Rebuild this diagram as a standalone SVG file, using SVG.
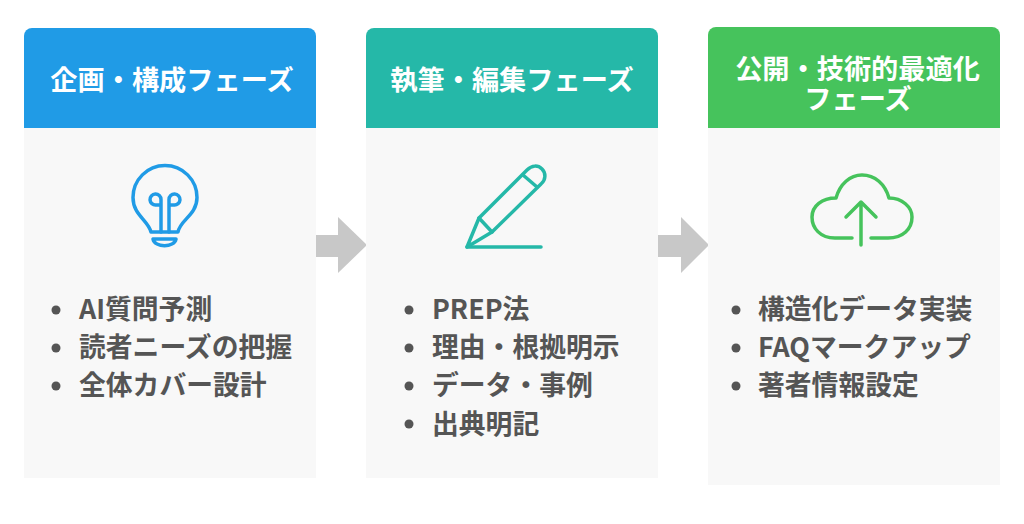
<svg xmlns="http://www.w3.org/2000/svg" width="1024" height="524" viewBox="0 0 1024 524">
<style>
text{font-family:"Noto Sans CJK JP","Noto Sans",sans-serif;font-weight:700}
.h{fill:#fff;font-size:27.200px;text-anchor:middle}
.l{fill:#555;font-size:26.800px}
.b{fill:#f8f8f8}
.i{fill:none;stroke-width:3.500;stroke-linecap:round;stroke-linejoin:round}
.a{fill:#c8c8c8}
.d{fill:#555}
</style>
<rect width="1024" height="524" fill="#fff"/>
<g id="connectors">
<path class="a" d="M316 235H338V217L367 245L338 273V257H316Z"/>
<path class="a" d="M658 235H681V217L709 245L681 273V257H658Z"/>
</g>
<g id="phase1">
<rect class="b" x="24" y="128" width="292" height="350"/>
<path fill="#209be6" d="M24 128V36a8 8 0 0 1 8-8H308a8 8 0 0 1 8 8V128Z"/>
<text class="h" x="172" y="90">企画・構成フェーズ</text>
<g class="i" stroke="#209be6">
<path d="M151 232C148 220 133 215 133 197.500A32 32 0 0 1 197 197.500C197 215 180 220 178 232Z"/>
<path d="M161 232V205H156a5.500 5.500 0 1 1 5-5.500V205M169 232V205H174a5.500 5.500 0 1 0-5-5.500V205"/>
<path d="M153 239H176C174 248 155 248 153 239Z"/>
</g>
<circle class="d" cx="56" cy="310" r="4.500"/><text class="l" x="79" y="319">AI質問予測</text>
<circle class="d" cx="56" cy="348" r="4.500"/><text class="l" x="79" y="357">読者ニーズの把握</text>
<circle class="d" cx="56" cy="386" r="4.500"/><text class="l" x="79" y="395">全体カバー設計</text>
</g>
<g id="phase2">
<rect class="b" x="366" y="128" width="292" height="350"/>
<path fill="#25b8a8" d="M366 128V36a8 8 0 0 1 8-8H650a8 8 0 0 1 8 8V128Z"/>
<text class="h" x="512" y="90">執筆・編集フェーズ</text>
<g class="i" stroke="#25b8a8">
<path d="M467 247L479 218L527 170C532 165 538 165 542 169C546 173 546 180 541 184L492 232Z"/>
<path d="M479 218L492 232M523 175L537 187M467 247H541"/>
</g>
<circle class="d" cx="409" cy="310" r="4.500"/><text class="l" x="432" y="319">PREP法</text>
<circle class="d" cx="409" cy="348" r="4.500"/><text class="l" x="432" y="357">理由・根拠明示</text>
<circle class="d" cx="409" cy="386" r="4.500"/><text class="l" x="432" y="395">データ・事例</text>
<circle class="d" cx="409" cy="424" r="4.500"/><text class="l" x="432" y="434">出典明記</text>
</g>
<g id="phase3">
<rect class="b" x="708" y="128" width="292" height="357"/>
<path fill="#46c35c" d="M708 128V35a8 8 0 0 1 8-8H992a8 8 0 0 1 8 8V128Z"/>
<text class="h"><tspan x="857.500" y="79">公開・技術的最適化</tspan><tspan x="858" y="109">フェーズ</tspan></text>
<g class="i" stroke="#46c35c">
<path d="M852 238H835C820 238 812 228 812 217C812 206 822 198 836 198C840 184 850 175 862 175C875 175 885 184 889 198C902 198 912 207 912 217C912 229 903 238 888 238H871"/>
<path d="M861 245V203M846 217L861 202L876 217"/>
</g>
<circle class="d" cx="736" cy="310" r="4.500"/><text class="l" x="758" y="319">構造化データ実装</text>
<circle class="d" cx="736" cy="348" r="4.500"/><text class="l" x="758" y="357">FAQマークアップ</text>
<circle class="d" cx="736" cy="386" r="4.500"/><text class="l" x="758" y="395">著者情報設定</text>
</g>
</svg>
